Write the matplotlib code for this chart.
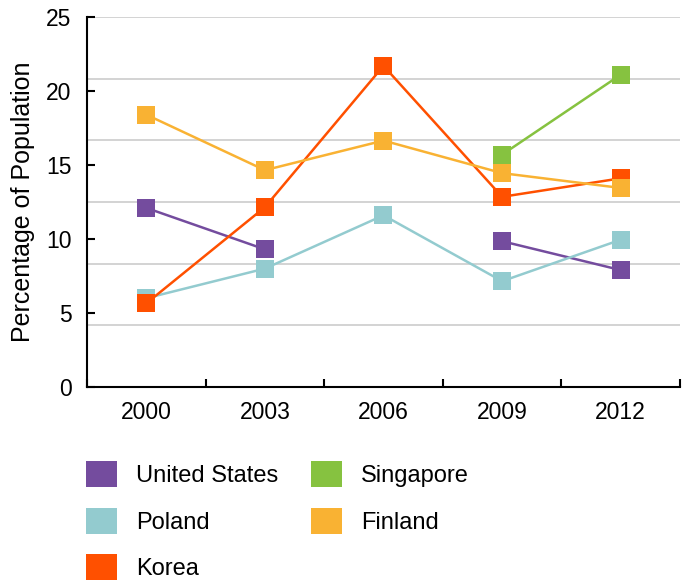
import numpy as np
import matplotlib.pyplot as plt
from matplotlib.patches import Patch

plt.rcParams['font.family'] = ['Liberation Sans', 'DejaVu Sans']

years = ['2000', '2003', '2006', '2009', '2012']
us = [12.1, 9.3, np.nan, 9.85, 7.9]
poland = [6.0, 8.0, 11.6, 7.15, 9.95]
korea = [5.65, 12.15, 21.7, 12.85, 14.1]
singapore = [np.nan, np.nan, np.nan, 15.7, 21.1]
finland = [18.4, 14.65, 16.65, 14.45, 13.45]

series = [
    ('United States', us, '#744c9e'),
    ('Poland', poland, '#93cbcf'),
    ('Korea', korea, '#ff5000'),
    ('Singapore', singapore, '#86c240'),
    ('Finland', finland, '#f9b233'),
]

fig = plt.figure(figsize=(6.85, 5.85), dpi=100)
ax = fig.add_axes([87 / 685, 1 - 387 / 585, 593 / 685, 370 / 585])

x = np.arange(len(years))
for name, vals, col in series:
    ax.plot(x, vals, color=col, linewidth=1.8, marker='s', markersize=13.5,
            markeredgewidth=0, label=name, zorder=3)

# light horizontal guides split the range into sixths
for g in np.linspace(0, 25, 7)[1:]:
    ax.axhline(g, color='#cccccc', linewidth=1.2, zorder=1)

ax.set_xlim(-0.5, len(years) - 0.5)
ax.set_ylim(0, 25)
ax.set_xticks(x)
ax.set_xticklabels(years)
ax.set_xticks(np.arange(-0.5, len(years)), minor=True)
ax.tick_params(axis='x', which='major', length=0, pad=10, labelsize=16.5)
ax.tick_params(axis='x', which='minor', direction='in', length=6, width=1.5)
ax.set_yticks(np.arange(0, 26, 5))
ax.tick_params(axis='y', direction='in', length=6, width=1.5, pad=11, labelsize=16.5)
ax.set_ylabel('Percentage of Population', fontsize=18, labelpad=8)

for s in ['top', 'right']:
    ax.spines[s].set_visible(False)
for s in ['left', 'bottom']:
    ax.spines[s].set_linewidth(1.5)
ax.spines['bottom'].set_capstyle('projecting')

handles = [Patch(facecolor=col, edgecolor='none', label=name) for name, _, col in series]
fig.legend(handles=handles, ncol=2, loc='upper left',
           bbox_to_anchor=(86 / 685, 1 - 461 / 585), frameon=False,
           fontsize=17, borderpad=0, borderaxespad=0,
           handlelength=1.31, handleheight=1.31, handletextpad=0.8,
           labelspacing=0.88, columnspacing=1.4)

fig.savefig('out.png', dpi=100)
